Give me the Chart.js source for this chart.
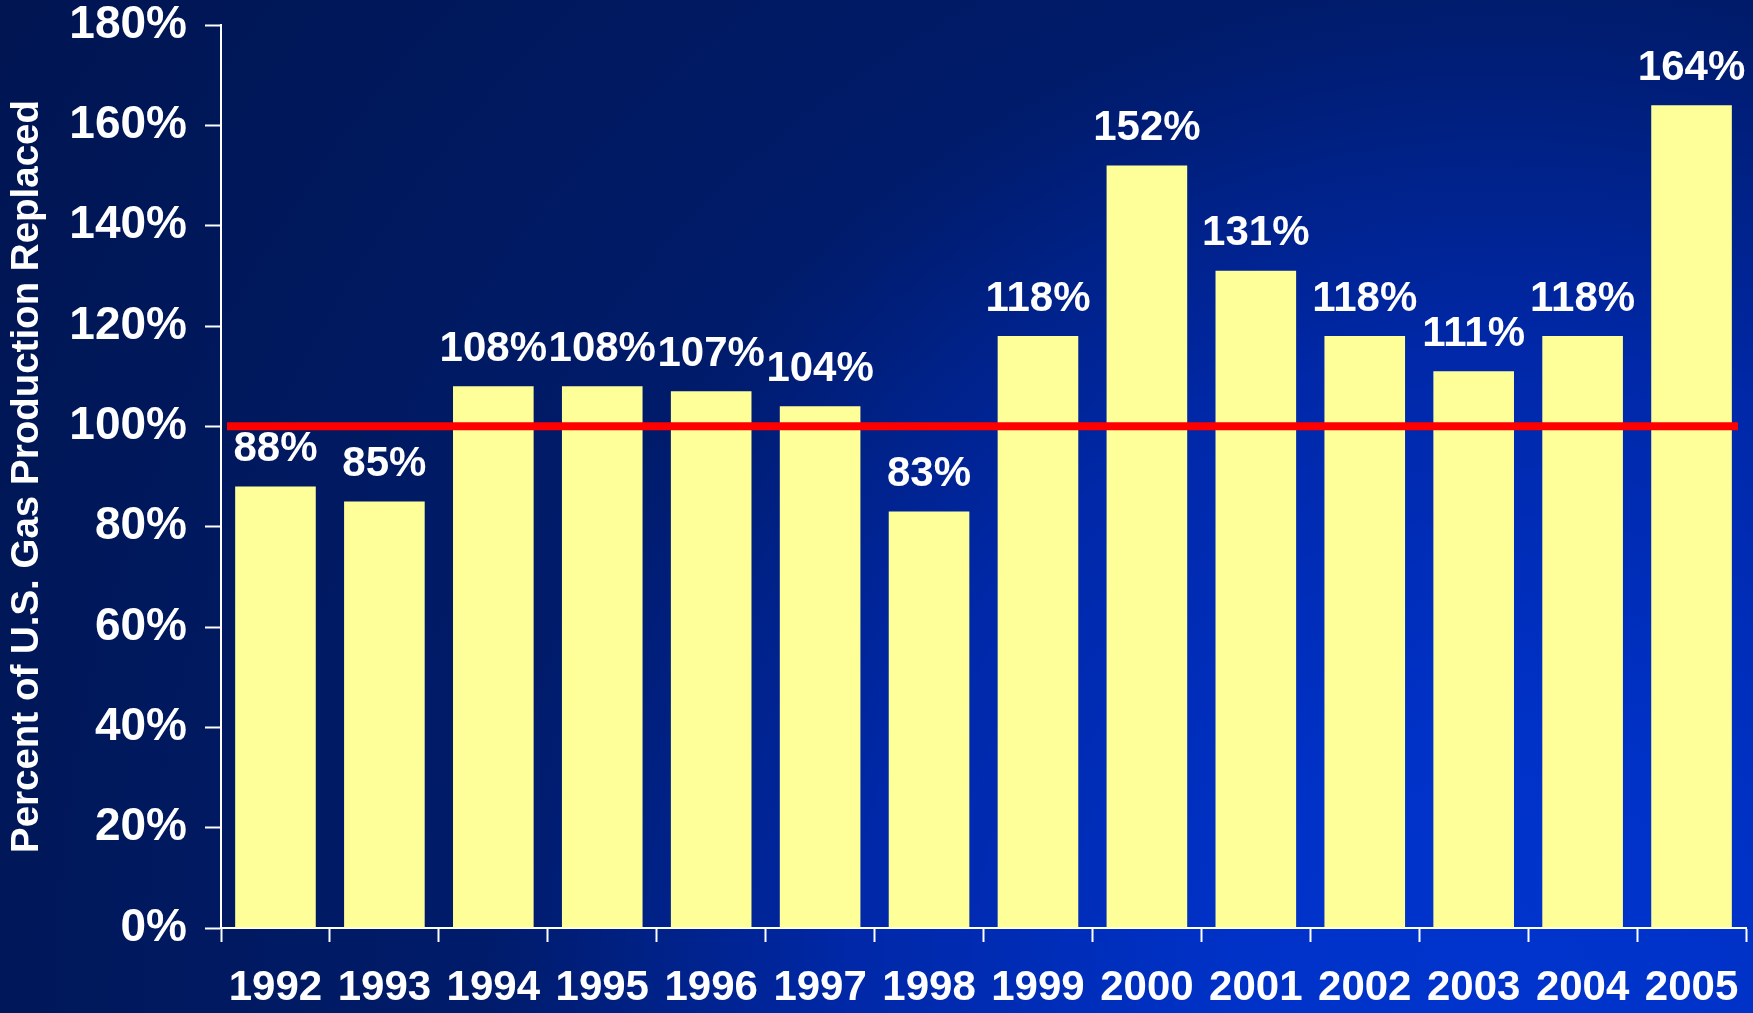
<!DOCTYPE html>
<html>
<head>
<meta charset="utf-8">
<script src="https://cdn.jsdelivr.net/npm/chart.js@4/dist/chart.umd.min.js"></script>
<style>
  html, body { margin: 0; padding: 0; overflow: hidden; background: #001858; }
  #wrap { width: 1753px; height: 1013px; position: relative; }
</style>
</head>
<body>
<div id="wrap"><canvas id="chart"></canvas></div>
<script>
// data
const years = ["1992", "1993", "1994", "1995", "1996", "1997", "1998", "1999", "2000", "2001", "2002", "2003", "2004", "2005"];
const replaced = [88, 85, 108, 108, 107, 104, 83, 118, 152, 131, 118, 111, 118, 164];
const yTicks = [0, 20, 40, 60, 80, 100, 120, 140, 160, 180];
const target = 100; // red 100% line

const FONT = "'Liberation Sans', Arial, sans-serif";

// blue radial background, brightest toward the bottom right
const background = {
  id: "background",
  beforeDraw(chart) {
    const ctx = chart.ctx;
    const w = chart.width, h = chart.height;
    const g = ctx.createRadialGradient(1500, 1000, 0, 1500, 1000, 1850);
    g.addColorStop(0, "#0034cc");
    g.addColorStop(0.14, "#0032c8");
    g.addColorStop(0.35, "#0028a8");
    g.addColorStop(0.55, "#001b6a");
    g.addColorStop(0.8, "#00185a");
    g.addColorStop(1, "#001450");
    ctx.save();
    ctx.fillStyle = g;
    ctx.fillRect(0, 0, w, h);
    ctx.restore();
  }
};

// red target line + value labels on top of bars
const overlay = {
  id: "overlay",
  afterDatasetsDraw(chart) {
    const ctx = chart.ctx;
    const area = chart.chartArea;
    const y = chart.scales.y.getPixelForValue(target);
    ctx.save();
    ctx.strokeStyle = "#ff0000";
    ctx.lineWidth = 8;
    ctx.beginPath();
    ctx.moveTo(area.left + 6, y);
    ctx.lineTo(area.right - 8, y);
    ctx.stroke();

    ctx.fillStyle = "#ffffff";
    ctx.font = "bold 42px " + FONT;
    ctx.textAlign = "center";
    ctx.textBaseline = "middle";
    chart.getDatasetMeta(0).data.forEach((bar, i) => {
      ctx.fillText(replaced[i] + "%", bar.x, bar.y - 37);
    });
    ctx.restore();
  }
};

new Chart(document.getElementById("chart"), {
  type: "bar",
  data: {
    labels: years,
    datasets: [{
      data: replaced,
      backgroundColor: "#ffff99",
      borderWidth: 0,
      categoryPercentage: 1,
      barPercentage: 0.74
    }]
  },
  options: {
    responsive: true,
    maintainAspectRatio: false,
    animation: false,
    layout: { padding: { top: 25, right: 7, left: 0, bottom: 0 } },
    plugins: { legend: { display: false }, tooltip: { enabled: false } },
    scales: {
      x: {
        grid: { drawOnChartArea: false, drawTicks: true, tickLength: 14, tickColor: "#ffffff", tickWidth: 2 },
        border: { color: "#ffffff", width: 2 },
        ticks: { color: "#ffffff", padding: 21, font: { family: FONT, size: 42, weight: "bold" } },
        afterFit(scale) {
          scale.height = 85;
          scale.paddingLeft = 0;
          scale.paddingRight = 0;
        }
      },
      y: {
        min: 0,
        max: 180,
        afterBuildTicks(scale) { scale.ticks = yTicks.map(v => ({ value: v })); },
        grid: { drawOnChartArea: false, drawTicks: true, tickLength: 16, tickColor: "#ffffff", tickWidth: 2 },
        border: { color: "#ffffff", width: 2 },
        ticks: {
          color: "#ffffff",
          padding: 18,
          font: { family: FONT, size: 46, weight: "bold", lineHeight: 1 },
          callback: v => v + "%"
        },
        title: {
          display: true,
          text: "Percent of U.S. Gas Production Replaced",
          color: "#ffffff",
          padding: { top: 4, bottom: 0 },
          font: { family: FONT, size: 38.5, weight: "bold" }
        },
        afterFit(scale) {
          scale.width = 221;
          scale.paddingTop = 0;
          scale.paddingBottom = 0;
        }
      }
    }
  },
  plugins: [background, overlay]
});
</script>
</body>
</html>
